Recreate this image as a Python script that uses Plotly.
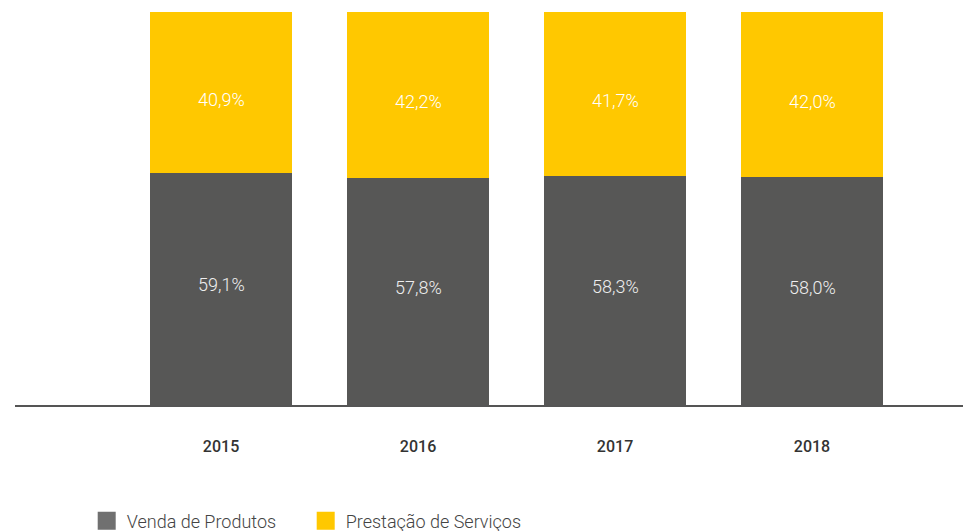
import plotly.graph_objects as go

years = ["2015", "2016", "2017", "2018"]
produtos = [59.1, 57.8, 58.3, 58.0]
servicos = [40.9, 42.2, 41.7, 42.0]

GREY = "#575756"
YELLOW = "#FFC800"
FONT = "Roboto"

def fmt(v):
    return f"{v:.1f}".replace(".", ",") + "%"

xs = list(range(len(years)))

fig = go.Figure()
fig.add_trace(go.Bar(
    x=xs, y=produtos, name="Venda de Produtos", marker_color=GREY, width=0.72,
    showlegend=False, marker_line_width=0,
))
fig.add_trace(go.Bar(
    x=xs, y=servicos, name="Prestação de Serviços", marker_color=YELLOW, width=0.72,
    showlegend=False, marker_line_width=0,
))
# segment labels (placed from data)
for x, p, s in zip(xs, produtos, servicos):
    fig.add_annotation(x=x, y=p / 2, text=fmt(p), showarrow=False, yshift=4,
                       font=dict(color="#eeeeee", size=18, family=FONT, weight=300))
    fig.add_annotation(x=x, y=p + s / 2, text=fmt(s), showarrow=False, yshift=-7,
                       font=dict(color="#ffffff", size=18, family=FONT, weight=300))
# legend proxies
fig.add_trace(go.Scatter(x=[None], y=[None], mode="markers", name="Venda de Produtos",
                         marker=dict(symbol="square", size=16, color="#707070",
                                     line=dict(width=2, color="#707070"))))
fig.add_trace(go.Scatter(x=[None], y=[None], mode="markers", name="Prestação de Serviços",
                         marker=dict(symbol="square", size=16, color=YELLOW,
                                     line=dict(width=2, color=YELLOW))))

fig.update_layout(
    barmode="stack",
    width=971, height=531,
    margin=dict(l=7, r=8, t=4, b=134, autoexpand=False),
    paper_bgcolor="white", plot_bgcolor="white",
    font=dict(family=FONT, color="#333333"),
    legend=dict(orientation="h", x=0.075, xanchor="left", y=-0.295, yanchor="middle",
                font=dict(size=18, color="#444444", family=FONT, weight=300), itemwidth=30,
                entrywidth=174, traceorder="normal",
                bgcolor="rgba(0,0,0,0)"),
    xaxis=dict(tickmode="array", tickvals=xs, ticktext=years, range=[-1.046, 3.807],
               showline=True, linecolor="#555555", linewidth=1.5, showgrid=False,
               zeroline=False, ticks="", ticklabelstandoff=26,
               tickfont=dict(size=16, color="#333333", family=FONT, weight=500)),
    yaxis=dict(range=[0, 100], visible=False, showgrid=False, zeroline=False),
    bargap=0,
)

fig.write_html("out.html")
